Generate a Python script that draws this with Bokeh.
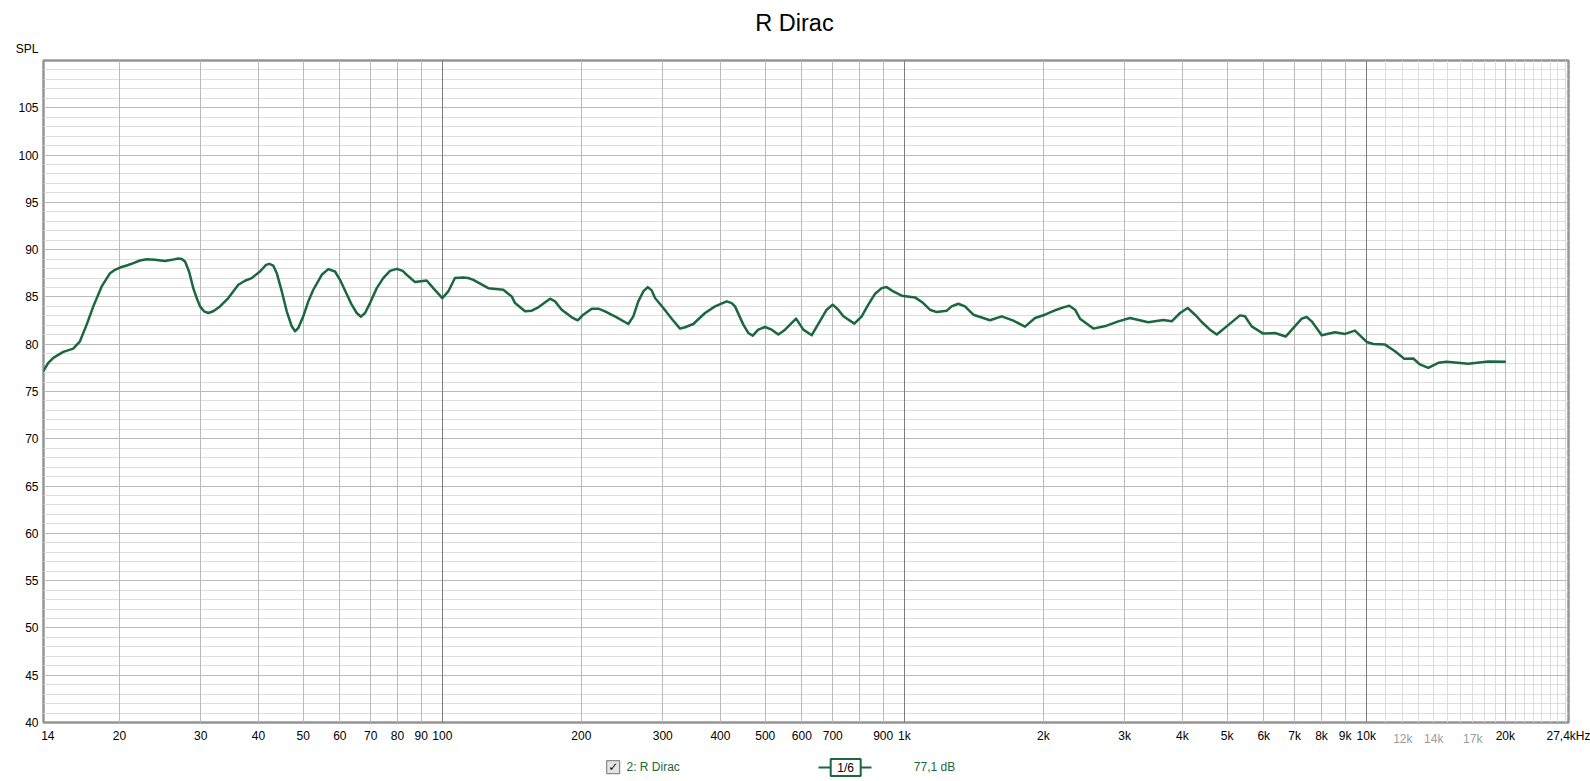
from bokeh.plotting import figure
from bokeh.models import FixedTicker, Grid, LogAxis, LinearAxis, Range1d
from bokeh.layouts import column
from bokeh.core.properties import value
from bokeh.embed import file_html
from bokeh.resources import INLINE

# ---------------- data ----------------
freq_hz = [13.69, 14.03, 14.39, 15.12, 15.89, 16.43, 16.99, 17.56, 18.31, 19.09,
           19.57, 20.06, 20.74, 21.44, 22.16, 22.92, 23.87, 25.11, 25.97, 26.83,
           27.29, 27.74, 28.3, 28.9, 29.4, 29.89, 30.49, 31.15, 31.93, 33.02,
           34.41, 36.18, 37.4, 38.67, 40.3, 41.54, 42.21, 43.06, 43.82, 44.93,
           46.05, 47.21, 48.0, 48.78, 50.01, 51.28, 52.57, 54.83, 56.64, 58.57,
           60.05, 63.66, 65.27, 66.69, 68.04, 69.74, 72.12, 74.5, 77.04, 79.67,
           82.09, 83.74, 87.3, 92.5, 95.6, 100.0, 103.0, 106.5, 111.0, 113.8,
           116.7, 125.8, 135.5, 141.3, 143.7, 151.0, 156.1, 161.4, 171.1, 175.4,
           181.3, 190.6, 196.4, 201.9, 210.6, 217.7, 225.0, 238.5, 252.7, 259.1,
           265.6, 272.3, 278.4, 284.0, 288.7, 300.9, 313.7, 327.0, 335.2, 349.4,
           370.4, 389.3, 412.7, 423.0, 430.1, 448.3, 459.5, 469.8, 483.0, 499.4,
           516.4, 533.8, 552.0, 583.1, 604.6, 630.5, 662.6, 679.2, 699.8, 719.7,
           738.0, 779.6, 808.8, 835.8, 864.6, 893.4, 916.0, 946.7, 987.2, 1055,
           1099, 1136, 1175, 1236, 1266, 1309, 1353, 1411, 1533, 1625,
           1722, 1825, 1919, 2016, 2137, 2210, 2276, 2342, 2401, 2566,
           2742, 2906, 3080, 3374, 3636, 3792, 3954, 4106, 4259, 4404,
           4588, 4746, 4987, 5329, 5462, 5648, 5984, 6344, 6692, 7249,
           7430, 7619, 8008, 8555, 8993, 9452, 10020, 10360, 10980, 11540,
           12090, 12640, 13070, 13620, 14320, 14930, 16630, 18370, 19960]
spl_db = [77.15, 78.03, 78.56, 79.19, 79.54, 80.31, 82.07, 84.0, 86.11, 87.51,
          87.87, 88.11, 88.32, 88.57, 88.85, 88.99, 88.92, 88.81, 88.92, 89.06,
          89.02, 88.74, 87.69, 85.93, 84.88, 84.0, 83.48, 83.3, 83.48, 84.0,
          84.88, 86.29, 86.71, 86.99, 87.69, 88.39, 88.5, 88.32, 87.51, 85.58,
          83.48, 81.9, 81.37, 81.72, 82.95, 84.53, 85.76, 87.34, 87.94, 87.69,
          86.81, 84.18, 83.3, 82.91, 83.3, 84.35, 85.93, 86.99, 87.76, 87.97,
          87.76, 87.34, 86.57, 86.74, 85.93, 84.88, 85.58, 87.0, 87.06, 87.0,
          86.81, 85.93, 85.76, 85.06, 84.35, 83.48, 83.55, 83.9, 84.81, 84.53,
          83.65, 82.84, 82.53, 83.12, 83.76, 83.76, 83.48, 82.84, 82.14, 82.95,
          84.53, 85.58, 86.04, 85.69, 84.88, 83.83, 82.7, 81.65, 81.79, 82.14,
          83.3, 84.0, 84.53, 84.35, 84.0, 82.07, 81.19, 80.91, 81.54, 81.82,
          81.54, 81.02, 81.54, 82.7, 81.54, 80.95, 82.77, 83.65, 84.18, 83.65,
          82.95, 82.18, 82.95, 84.18, 85.34, 85.93, 86.04, 85.58, 85.13, 84.95,
          84.35, 83.65, 83.4, 83.55, 84.0, 84.28, 84.0, 83.12, 82.53, 82.95,
          82.49, 81.86, 82.77, 83.12, 83.65, 83.9, 84.07, 83.65, 82.7, 81.65,
          81.96, 82.42, 82.77, 82.32, 82.56, 82.42, 83.3, 83.83, 83.12, 82.35,
          81.54, 81.02, 81.89, 83.05, 82.95, 81.89, 81.12, 81.19, 80.81, 82.7,
          82.88, 82.42, 80.95, 81.26, 81.09, 81.44, 80.24, 80.03, 79.96, 79.26,
          78.45, 78.49, 77.86, 77.5, 78.03, 78.14, 77.93, 78.17, 78.14]

x_tick_values = [14, 20, 30, 40, 50, 60, 70, 80, 90, 100, 200, 300, 400, 500, 600,
                 700, 900, 1000, 2000, 3000, 4000, 5000, 6000, 7000, 8000, 9000,
                 10000, 20000, 27400]
x_tick_labels = ["14", "20", "30", "40", "50", "60", "70", "80", "90", "100", "200",
                 "300", "400", "500", "600", "700", "900", "1k", "2k", "3k", "4k",
                 "5k", "6k", "7k", "8k", "9k", "10k", "20k", "27,4kHz"]
gray_tick_values = [12000, 14000, 17000]
gray_tick_labels = ["12k", "14k", "17k"]
y_tick_values = [40, 45, 50, 55, 60, 65, 70, 75, 80, 85, 90, 95, 100, 105]

title_text = "R Dirac"
y_title = "SPL"
legend_name = "2: R Dirac"
smoothing_text = "1/6"
cursor_text = "77,1 dB"

X_START, X_END = 13.7, 27400
Y_START, Y_END = 40, 110

GREEN = "#1b673e"
FONT = "Liberation Sans"
W = 1590
FRAME_L, FRAME_R = 43, 1568   # page x of the plot frame edges


def blank(height):
    # header/footer strips; their frames get aligned with the main frame by the column,
    # so the x range is set to page pixels of that frame
    f = figure(width=W, height=height, x_range=Range1d(FRAME_L, FRAME_R),
               y_range=Range1d(height, 0),
               output_backend="svg", toolbar_location=None,
               x_axis_location=None, y_axis_location=None,
               min_border_left=FRAME_L, min_border_right=W - FRAME_R,
               min_border_top=0, min_border_bottom=0)
    f.outline_line_color = None
    f.xgrid.visible = False
    f.ygrid.visible = False
    f.background_fill_color = "white"
    f.border_fill_color = "white"
    return f


# ---------------- header: title + SPL ----------------
HEADER_H = 56
head = blank(HEADER_H)
head.text(x=[794], y=[22], text=[title_text], text_font=value(FONT), text_font_size="23.5px",
          text_color="#000000", text_align="center", text_baseline="middle")
spl_axis = LinearAxis(ticker=FixedTicker(ticks=[50]), major_label_overrides={50: y_title},
                      major_label_text_font=FONT, major_label_text_font_size="12px",
                      major_label_text_color="#000000", major_label_standoff=5,
                      major_tick_out=0, major_tick_in=0, minor_tick_out=0, minor_tick_in=0,
                      axis_line_color=None)
head.add_layout(spl_axis, "left")

# ---------------- main chart ----------------
p = figure(width=W, height=692, x_axis_type="log",
           x_range=(X_START, X_END), y_range=(Y_START, Y_END),
           output_backend="svg", toolbar_location=None,
           min_border_left=FRAME_L, min_border_right=W - FRAME_R, min_border_top=4,
           min_border_bottom=24)
p.background_fill_color = "white"
p.border_fill_color = "white"
p.outline_line_color = "#959595"
p.outline_line_width = 2.5

xa = p.xaxis[0]
xa.ticker = FixedTicker(ticks=x_tick_values)
xa.major_label_overrides = {v: t for v, t in zip(x_tick_values, x_tick_labels)}
xa.major_label_text_font = FONT
xa.major_label_text_font_size = "12px"
xa.major_label_text_color = "#000000"
xa.major_label_standoff = 6
xa.major_tick_out = 0
xa.major_tick_in = 0
xa.minor_tick_out = 0
xa.minor_tick_in = 0
xa.axis_line_color = None

xa2 = LogAxis(ticker=FixedTicker(ticks=gray_tick_values),
              major_label_overrides={v: t for v, t in zip(gray_tick_values, gray_tick_labels)},
              major_label_text_font=FONT, major_label_text_font_size="12px",
              major_label_text_color="#9a9a9a", major_label_standoff=-14,
              major_tick_out=0, major_tick_in=0, minor_tick_out=0, minor_tick_in=0,
              axis_line_color=None)
p.add_layout(xa2, "below")

ya = p.yaxis[0]
ya.ticker = FixedTicker(ticks=y_tick_values)
ya.major_label_text_font = FONT
ya.major_label_text_font_size = "12px"
ya.major_label_text_color = "#000000"
ya.major_label_standoff = 5
ya.major_tick_out = 0
ya.major_tick_in = 0
ya.minor_tick_out = 0
ya.minor_tick_in = 0
ya.axis_line_color = None

p.xgrid.visible = False
p.ygrid.visible = False

y_minor = [v for v in range(41, 110) if v % 5 != 0]
y_major = [v for v in range(45, 110, 5)]
x_regular = [m * d for d in (10, 100, 1000) for m in range(2, 10)] + [20000]
x_decade = [100, 1000, 10000]
x_light = [k * 1000 for k in list(range(11, 20)) + list(range(21, 28))]

p.add_layout(Grid(dimension=1, ticker=FixedTicker(ticks=y_minor), grid_line_color="#dddddd"))
p.add_layout(Grid(dimension=0, ticker=FixedTicker(ticks=x_light), grid_line_color="#dddddd"))
p.add_layout(Grid(dimension=1, ticker=FixedTicker(ticks=y_major), grid_line_color="#bababa"))
p.add_layout(Grid(dimension=0, ticker=FixedTicker(ticks=x_regular), grid_line_color="#bababa"))
p.add_layout(Grid(dimension=0, ticker=FixedTicker(ticks=x_decade), grid_line_color="#7d7d7d"))

p.line(freq_hz, spl_db, line_color=GREEN, line_width=2.5, line_join="round", line_cap="round")

# ---------------- footer: legend row ----------------
FOOT_H = 781 - HEADER_H - 692
foot = blank(FOOT_H)
LY = 18.7
foot.rect(x=[612.7], y=[LY], width=13, height=13, fill_color="#e4e4e4",
          line_color="#707070", line_width=1)
foot.text(x=[612.9], y=[LY], text=["\u2713"], text_font=value("DejaVu Sans"),
          text_font_size="12px", text_color="#111111", text_align="center",
          text_baseline="middle")
foot.text(x=[626], y=[LY], text=[legend_name], text_font=value(FONT), text_font_size="12px",
          text_color=GREEN, text_align="left", text_baseline="middle")
foot.segment(x0=[818, 860.5], y0=[19, 19], x1=[830, 871], y1=[19, 19],
             line_color=GREEN, line_width=2)
foot.rect(x=[845.2], y=[19], width=30, height=17, fill_color="white",
          line_color=GREEN, line_width=2)
foot.text(x=[845.2], y=[19], text=[smoothing_text], text_font=value(FONT),
          text_font_size="12px", text_color="#000000", text_align="center",
          text_baseline="middle")
foot.text(x=[913.3], y=[LY], text=[cursor_text], text_font=value(FONT), text_font_size="12px",
          text_color=GREEN, text_align="left", text_baseline="middle")

layout = column(head, p, foot, spacing=0)
open("out.html", "w").write(file_html(layout, INLINE))
